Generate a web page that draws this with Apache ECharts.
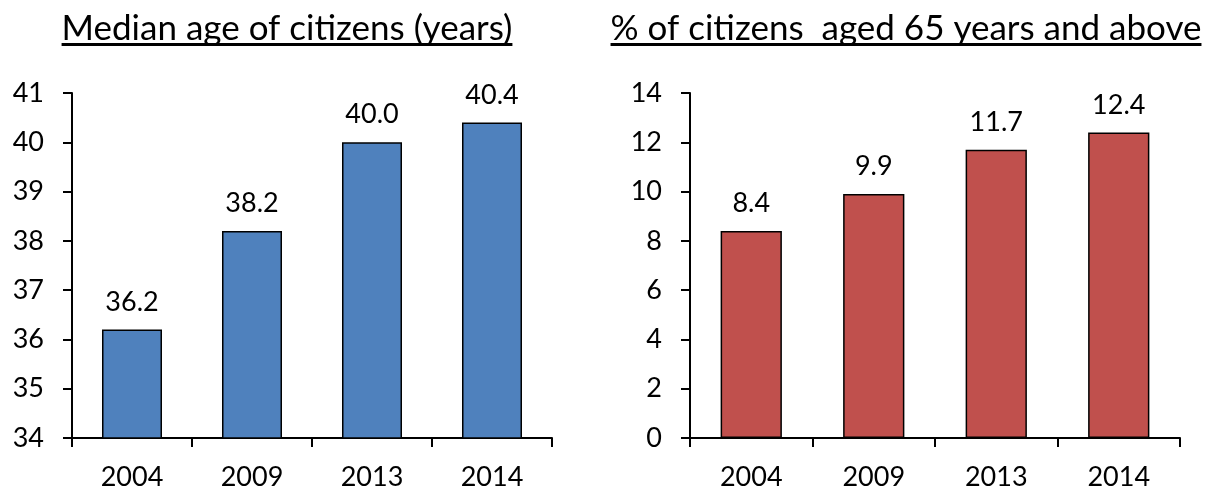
<!DOCTYPE html>
<html><head><meta charset="utf-8">
<script src="https://cdn.jsdelivr.net/npm/echarts@6/dist/echarts.min.js"></script>
<style>html,body{margin:0;padding:0;background:#fff}#c{width:1208px;height:493px}</style>
</head><body><div id="c"></div>
<script>
const categories = ['2004', '2009', '2013', '2014'];
const medianAge = [36.2, 38.2, 40.0, 40.4];
const pctAged65 = [8.4, 9.9, 11.7, 12.4];
const titleLeftText = 'Median age of citizens (years)';
const titleRightText = '% of citizens  aged 65 years and above';
const leftAxisMin = 34, leftAxisMax = 41, leftAxisStep = 1;
const rightAxisMin = 0, rightAxisMax = 14, rightAxisStep = 2;

const FONT = 'Lato, "Open Sans", sans-serif';
const TITLE_SIZE = 35;
const TICK_SIZE = 27;

function textWidth(t, size) {
  const c = document.createElement('canvas').getContext('2d');
  c.font = size + 'px ' + FONT;
  return c.measureText(t).width;
}

const grids = [
  { left: 72, top: 93, width: 480, height: 345 },
  { left: 690, top: 93, width: 490, height: 345 }
];
const titleCenters = [287, 906];
const titleTexts = [titleLeftText, titleRightText];
const titleTop = 11;
const underlineY = 44.5;

const titles = [], graphics = [];
titleTexts.forEach((t, i) => {
  const w = textWidth(t, TITLE_SIZE);
  titles.push({
    text: t, left: titleCenters[i] - w / 2, top: titleTop, padding: 0,
    textStyle: { fontFamily: FONT, fontSize: TITLE_SIZE, fontWeight: 'normal', color: '#000' }
  });
  graphics.push({
    type: 'line', silent: true,
    shape: { x1: titleCenters[i] - w / 2, y1: underlineY, x2: titleCenters[i] + w / 2, y2: underlineY },
    style: { stroke: '#000', lineWidth: 3 }
  });
});

const axisLineStyle = { show: true, lineStyle: { color: '#000', width: 2 } };
const tickStyle = { show: true, length: 9, lineStyle: { color: '#000', width: 2 } };
const labelStyle = { color: '#000', fontFamily: FONT, fontSize: TICK_SIZE };

function xAxis(gi) {
  return {
    type: 'category', gridIndex: gi, data: categories,
    axisLine: axisLineStyle, axisTick: tickStyle,
    axisLabel: Object.assign({ margin: 26 }, labelStyle),
    splitLine: { show: false }
  };
}
function yAxis(gi, min, max, step) {
  return {
    type: 'value', gridIndex: gi, min: min, max: max, interval: step,
    axisLine: axisLineStyle, axisTick: tickStyle,
    axisLabel: Object.assign({ margin: 28 }, labelStyle),
    splitLine: { show: false }
  };
}
function barSeries(gi, data, color) {
  return {
    type: 'bar', xAxisIndex: gi, yAxisIndex: gi, data: data, barWidth: '50%',
    itemStyle: { color: color, borderColor: '#000', borderWidth: 1.5 },
    label: {
      show: true, position: 'top', distance: 14, color: '#000',
      fontFamily: FONT, fontSize: TICK_SIZE,
      formatter: p => p.value.toFixed(1)
    },
    emphasis: { disabled: true },
    animation: false
  };
}

const chart = echarts.init(document.getElementById('c'), null, { renderer: 'canvas' });
chart.setOption({
  animation: false,
  backgroundColor: '#fff',
  title: titles,
  graphic: graphics,
  grid: grids,
  xAxis: [xAxis(0), xAxis(1)],
  yAxis: [yAxis(0, leftAxisMin, leftAxisMax, leftAxisStep), yAxis(1, rightAxisMin, rightAxisMax, rightAxisStep)],
  series: [barSeries(0, medianAge, '#4F81BD'), barSeries(1, pctAged65, '#C0504D')]
});
</script>
</body></html>
